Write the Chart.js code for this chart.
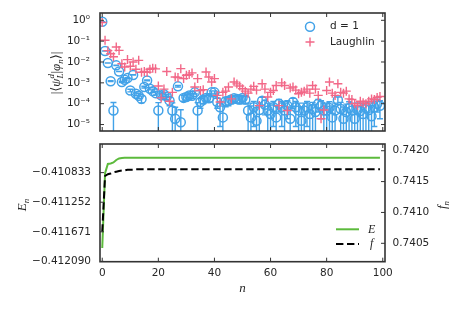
<!DOCTYPE html>
<html>
<head>
<meta charset="utf-8">
<script src="https://cdn.jsdelivr.net/npm/chart.js@4.4.0/dist/chart.umd.min.js"></script>
<style>
  html, body { margin: 0; padding: 0; background: #fff; }
  #wrap { position: relative; width: 463px; height: 309px; }
  canvas { position: absolute; left: 0; }
  #overlapChart { top: 0; }
  #energyChart { top: 137px; }
</style>
</head>
<body>
<div id="wrap">
  <canvas id="overlapChart" width="463" height="137"></canvas>
  <canvas id="energyChart" width="463" height="172"></canvas>
</div>
<script>
// step index n
const steps = [0,1,2,3,4,5,6,7,8,9,10,11,12,13,14,15,16,17,18,19,
  20,21,22,23,24,25,26,27,28,29,30,31,32,33,34,35,36,37,38,39,
  40,41,42,43,44,45,46,47,48,49,50,51,52,53,54,55,56,57,58,59,
  60,61,62,63,64,65,66,67,68,69,70,71,72,73,74,75,76,77,78,79,
  80,81,82,83,84,85,86,87,88,89,90,91,92,93,94,95,96,97,98,99];

// |<psi_L^d|phi_n>| for d = 1 (with error bars)
const overlapD1 = [0.85, 3.4e-2, 8.9e-3, 1.2e-3, 4.7e-5, 6.9e-3, 3.5e-3, 1.1e-3, 1.4e-3, 1.7e-3,
  4.3e-4, 2.4e-3, 3.0e-4, 2.4e-4, 1.7e-4, 6.3e-4, 1.3e-3, 5.2e-4, 4.0e-4, 3.2e-4,
  4.7e-5, 2.5e-4, 2.8e-4, 2.2e-4, 1.4e-4, 4.7e-5, 1.9e-5, 6.8e-4, 1.3e-5, 1.9e-4,
  2.1e-4, 2.5e-4, 2.4e-4, 3.5e-4, 4.7e-5, 1.2e-4, 1.6e-4, 1.9e-4, 1.8e-4, 3.5e-4,
  3.5e-4, 1.2e-4, 6.8e-5, 2.2e-5, 1.3e-4, 1.4e-4, 1.6e-4, 1.8e-4, 1.7e-4, 1.6e-4,
  1.9e-4, 1.6e-4, 4.7e-5, 2.2e-5, 6.8e-5, 1.5e-5, 5.0e-5, 1.4e-4, 8.9e-5, 4.7e-5,
  3.2e-5, 6.8e-5, 2.2e-5, 1.0e-4, 6.8e-5, 4.7e-5, 7.9e-5, 1.9e-5, 1.2e-4, 6.8e-5,
  4.7e-5, 1.5e-5, 4.7e-5, 6.8e-5, 3.2e-5, 5.6e-5, 4.0e-5, 1.0e-4, 7.9e-5, 4.7e-5,
  4.7e-5, 6.3e-5, 2.2e-5, 4.7e-5, 1.5e-4, 5.6e-5, 1.9e-5, 4.0e-5, 6.3e-5, 4.7e-5,
  1.9e-5, 5.0e-5, 4.5e-5, 3.2e-5, 6.3e-5, 5.0e-5, 2.5e-5, 6.8e-5, 1.0e-4, 7.9e-5];

const overlapD1Err = [6e-5, 6e-5, 6e-5, 6e-5, 6.8e-5, 6e-5, 6e-5, 6e-5, 6e-5, 6e-5,
  6e-5, 6e-5, 6e-5, 6e-5, 6e-5, 6e-5, 6e-5, 6e-5, 6e-5, 6e-5,
  6.5e-5, 6e-5, 6e-5, 6e-5, 6e-5, 6.2e-5, 4.9e-5, 6e-5, 3.8e-5, 6e-5,
  6e-5, 6e-5, 6e-5, 6e-5, 6.5e-5, 6e-5, 6e-5, 6e-5, 6e-5, 6e-5,
  6e-5, 6e-5, 6e-5, 5.5e-5, 6e-5, 6e-5, 6e-5, 6e-5, 6e-5, 6e-5,
  6e-5, 6e-5, 6e-5, 5.5e-5, 6e-5, 5e-5, 6e-5, 6e-5, 6e-5, 6e-5,
  5.5e-5, 6e-5, 5.5e-5, 6e-5, 6e-5, 6e-5, 6e-5, 5e-5, 6e-5, 6e-5,
  6e-5, 5e-5, 6e-5, 6e-5, 5.5e-5, 6e-5, 5.5e-5, 6e-5, 6e-5, 6e-5,
  6e-5, 6e-5, 5.5e-5, 6e-5, 6e-5, 6e-5, 5e-5, 5.5e-5, 6e-5, 6e-5,
  5e-5, 6e-5, 6e-5, 5.5e-5, 6e-5, 6e-5, 5.5e-5, 6e-5, 6e-5, 6e-5];

// Laughlin overlap
const overlapLaughlin = [0.79, 0.11, 3.5e-2, 2.5e-2, 1.8e-2, 5.2e-2, 3.6e-2, 8.3e-3, 5.8e-3, 1.3e-2,
  6.3e-3, 1.0e-2, 4.5e-3, 1.2e-2, 3.2e-3, 3.5e-3, 3.2e-3, 4.5e-3, 5.0e-3, 4.7e-3,
  7.1e-4, 1.9e-4, 5.0e-4, 3.5e-3, 1.3e-4, 3.5e-4, 1.9e-3, 1.8e-3, 4.8e-3, 1.6e-3,
  2.3e-3, 2.5e-3, 3.0e-3, 6.3e-4, 1.6e-3, 4.3e-4, 4.7e-4, 3.3e-3, 1.9e-3, 1.1e-3,
  1.6e-3, 2.5e-4, 1.2e-4, 3.5e-4, 4.0e-4, 6.3e-4, 1.7e-4, 1.1e-3, 8.9e-4, 7.1e-4,
  5.2e-4, 4.0e-4, 3.2e-4, 5.0e-4, 6.8e-4, 4.5e-4, 8.1e-5, 9.1e-4, 5.0e-4, 2.1e-4,
  3.5e-4, 4.3e-4, 7.4e-4, 8.1e-5, 1.0e-3, 7.4e-4, 4.7e-5, 5.6e-4, 6.3e-4, 4.5e-4,
  3.0e-4, 3.5e-4, 4.0e-4, 5.0e-4, 3.2e-4, 7.4e-4, 5.0e-4, 2.5e-4, 1.9e-5, 5.0e-5,
  4.3e-4, 1.1e-3, 3.2e-4, 2.5e-4, 9.1e-4, 3.5e-4, 3.2e-4, 4.0e-4, 1.7e-4, 1.6e-4,
  1.0e-4, 8.1e-5, 1.3e-4, 1.1e-4, 1.0e-4, 1.3e-4, 1.7e-4, 1.6e-4, 2.0e-4, 2.2e-4];

// E_n (left axis) and f_n (right axis)
const energy = [-0.411901, -0.410840, -0.410710, -0.410703, -0.410689, -0.410654, -0.410633, -0.410626, -0.410624, -0.410623,
  -0.410623, -0.410622, -0.410622, -0.410622, -0.410622, -0.410621, -0.410621, -0.410621, -0.410621, -0.410621,
  -0.410621, -0.410621, -0.410621, -0.410621, -0.410621, -0.410621, -0.410621, -0.410621, -0.410621, -0.410621,
  -0.410621, -0.410621, -0.410621, -0.410621, -0.410621, -0.410621, -0.410621, -0.410621, -0.410621, -0.410621,
  -0.410621, -0.410621, -0.410621, -0.410621, -0.410621, -0.410621, -0.410621, -0.410621, -0.410621, -0.410621,
  -0.410621, -0.410621, -0.410621, -0.410621, -0.410621, -0.410621, -0.410621, -0.410621, -0.410621, -0.410621,
  -0.410621, -0.410621, -0.410621, -0.410621, -0.410621, -0.410621, -0.410621, -0.410621, -0.410621, -0.410621,
  -0.410621, -0.410621, -0.410621, -0.410621, -0.410621, -0.410621, -0.410621, -0.410621, -0.410621, -0.410621,
  -0.410621, -0.410621, -0.410621, -0.410621, -0.410621, -0.410621, -0.410621, -0.410621, -0.410621, -0.410621,
  -0.410621, -0.410621, -0.410621, -0.410621, -0.410621, -0.410621, -0.410621, -0.410621, -0.410621, -0.410621];

const fidelity = [0.74069, 0.74159, 0.74162, 0.74163, 0.74165, 0.74166, 0.74167, 0.74168, 0.74168, 0.74169,
  0.74169, 0.74169, 0.74170, 0.74170, 0.74170, 0.74170, 0.74170, 0.74170, 0.74170, 0.74170,
  0.74170, 0.74170, 0.74170, 0.74170, 0.74170, 0.74170, 0.74170, 0.74170, 0.74170, 0.74170,
  0.74170, 0.74170, 0.74170, 0.74170, 0.74170, 0.74170, 0.74170, 0.74170, 0.74170, 0.74170,
  0.74170, 0.74170, 0.74170, 0.74170, 0.74170, 0.74170, 0.74170, 0.74170, 0.74170, 0.74170,
  0.74170, 0.74170, 0.74170, 0.74170, 0.74170, 0.74170, 0.74170, 0.74170, 0.74170, 0.74170,
  0.74170, 0.74170, 0.74170, 0.74170, 0.74170, 0.74170, 0.74170, 0.74170, 0.74170, 0.74170,
  0.74170, 0.74170, 0.74170, 0.74170, 0.74170, 0.74170, 0.74170, 0.74170, 0.74170, 0.74170,
  0.74170, 0.74170, 0.74170, 0.74170, 0.74170, 0.74170, 0.74170, 0.74170, 0.74170, 0.74170,
  0.74170, 0.74170, 0.74170, 0.74170, 0.74170, 0.74170, 0.74170, 0.74170, 0.74170, 0.74170];

// tick values
const xTicks = [0, 20, 40, 60, 80, 100];
const overlapTicks = [1e-5, 1e-4, 1e-3, 1e-2, 1e-1, 1];
const energyTicks = [-0.412090, -0.411671, -0.411252, -0.410833];
const fidelityTicks = [0.7405, 0.7410, 0.7415, 0.7420];

const BLUE = 'rgb(66,162,232)';
const PINK = 'rgb(242,104,136)';
const GREEN = 'rgb(92,186,60)';
const FRAME = '#333333';
const TXT = '#262626';
const MATH = '"Liberation Serif", "DejaVu Serif", serif';

Chart.defaults.font.family = '"DejaVu Sans", sans-serif';
Chart.defaults.font.size = 10.5;
Chart.defaults.color = TXT;

const SUP = {'0':'\u2070','1':'\u00b9','2':'\u00b2','3':'\u00b3','4':'\u2074','5':'\u2075','-':'\u207b'};
function powLabel(v) {
  const e = String(Math.round(Math.log10(v)));
  return '10' + e.split('').map(c => SUP[c]).join('');
}

function setTicks(list) {
  return scale => { scale.ticks = list.map(v => ({ value: v })); };
}
// fix the box size and drop the label overhang padding
function fixSize(w, h) {
  return s => {
    if (w !== null) s.width = w;
    if (h !== null) s.height = h;
    s.paddingTop = 0; s.paddingBottom = 0;
    s.paddingLeft = 0; s.paddingRight = 0;
  };
}
const noGrid = { display: false, drawTicks: false };

// draw parts of a math label, optionally rotated, centred on (cx, cy)
function mathText(ctx, parts, cx, cy, angle) {
  ctx.save();
  ctx.translate(cx, cy);
  ctx.rotate(angle);
  ctx.fillStyle = TXT;
  ctx.textBaseline = 'alphabetic';
  let total = 0, held = 0;
  parts.forEach(p => {
    ctx.font = p.font;
    p.w = ctx.measureText(p.t).width;
    if (p.keep) { held = p.w; return; }
    total += Math.max(p.w, held);
    held = 0;
  });
  let x = -total / 2;
  held = 0;
  parts.forEach(p => {
    ctx.font = p.font;
    ctx.fillText(p.t, x, 4 + (p.dy || 0));
    if (p.keep) { held = p.w; return; }
    x += Math.max(p.w, held);
    held = 0;
  });
  ctx.restore();
}

// frame with inward ticks on every side
function framePlugin(leftId, rightId) {
  return {
    id: 'frame',
    afterDraw(chart) {
      const { ctx, chartArea: a } = chart;
      const tl = 4;
      ctx.save();
      ctx.strokeStyle = FRAME;
      ctx.lineWidth = 1;
      ctx.beginPath();
      const xs = chart.scales.x;
      xs.ticks.forEach(t => {
        const px = xs.getPixelForValue(t.value);
        ctx.moveTo(px, a.bottom); ctx.lineTo(px, a.bottom - tl);
        ctx.moveTo(px, a.top); ctx.lineTo(px, a.top + tl);
      });
      const yl = chart.scales[leftId];
      yl.ticks.forEach(t => {
        const py = yl.getPixelForValue(t.value);
        ctx.moveTo(a.left, py); ctx.lineTo(a.left + tl, py);
      });
      const yr = chart.scales[rightId];
      yr.ticks.forEach(t => {
        const py = yr.getPixelForValue(t.value);
        ctx.moveTo(a.right, py); ctx.lineTo(a.right - tl, py);
      });
      ctx.stroke();
      ctx.lineWidth = 1.6;
      ctx.strokeRect(a.left, a.top, a.right - a.left, a.bottom - a.top);
      ctx.restore();
    }
  };
}

const errorBars = {
  id: 'errorBars',
  beforeDatasetsDraw(chart) {
    const { ctx, chartArea: a, scales: { x, y } } = chart;
    ctx.save();
    ctx.beginPath();
    ctx.rect(a.left, a.top, a.right - a.left, a.bottom - a.top);
    ctx.clip();
    ctx.strokeStyle = BLUE;
    ctx.lineWidth = 1.4;
    ctx.beginPath();
    steps.forEach((n, i) => {
      const px = x.getPixelForValue(n);
      const lo = overlapD1[i] - overlapD1Err[i];
      const yHi = y.getPixelForValue(overlapD1[i] + overlapD1Err[i]);
      const yLo = lo > 0 ? y.getPixelForValue(lo) : a.bottom + 4;
      ctx.moveTo(px, yHi); ctx.lineTo(px, yLo);
      ctx.moveTo(px - 3, yHi); ctx.lineTo(px + 3, yHi);
      if (lo > 0) { ctx.moveTo(px - 3, yLo); ctx.lineTo(px + 3, yLo); }
    });
    ctx.stroke();
    ctx.restore();
  }
};

const overlapLabels = {
  id: 'overlapLabels',
  afterDraw(chart) {
    const ctx = chart.ctx;
    const big = 'italic 13px ' + MATH, up = '13px ' + MATH;
    const small = 'italic 9px ' + MATH;
    mathText(ctx, [
      { t: '|\u27e8', font: up },
      { t: '\u03c8', font: big },
      { t: 'd', font: small, dy: -6, keep: true },
      { t: 'L', font: small, dy: 3 },
      { t: '|', font: up },
      { t: '\u03c6', font: big },
      { t: 'n', font: small, dy: 3 },
      { t: '\u27e9|', font: up }
    ], 56, 73, -Math.PI / 2);

    // legend
    ctx.save();
    ctx.lineWidth = 1.5;
    ctx.strokeStyle = BLUE;
    ctx.beginPath(); ctx.arc(310, 26.7, 4.5, 0, Math.PI * 2); ctx.stroke();
    ctx.strokeStyle = PINK;
    ctx.lineWidth = 1.4;
    ctx.beginPath();
    ctx.moveTo(305.5, 42); ctx.lineTo(314.5, 42);
    ctx.moveTo(310, 37.5); ctx.lineTo(310, 46.5);
    ctx.stroke();
    ctx.fillStyle = TXT;
    ctx.font = '10.5px "DejaVu Sans"';
    ctx.textBaseline = 'middle';
    ctx.fillText('d = 1', 330, 26.7);
    ctx.fillText('Laughlin', 330, 42);
    ctx.restore();
  }
};

const energyLabels = {
  id: 'energyLabels',
  afterDraw(chart) {
    const ctx = chart.ctx;
    const big = 'italic 13px ' + MATH, small = 'italic 9px ' + MATH;
    mathText(ctx, [{ t: 'E', font: big }, { t: 'n', font: small, dy: 3 }], 21.5, 68, -Math.PI / 2);
    mathText(ctx, [{ t: 'f', font: big }, { t: 'n', font: small, dy: 3 }], 442, 68, -Math.PI / 2);
    mathText(ctx, [{ t: 'n', font: big }], 242.5, 151, 0);

    // legend
    ctx.save();
    ctx.lineWidth = 2;
    ctx.strokeStyle = GREEN;
    ctx.beginPath(); ctx.moveTo(336, 92.3); ctx.lineTo(359, 92.3); ctx.stroke();
    ctx.strokeStyle = '#000';
    ctx.setLineDash([7.4, 3.6]);
    ctx.beginPath(); ctx.moveTo(336, 107); ctx.lineTo(359, 107); ctx.stroke();
    ctx.restore();
    ctx.save();
    ctx.fillStyle = TXT;
    ctx.font = 'italic 12px ' + MATH;
    ctx.textBaseline = 'middle';
    ctx.fillText('E', 368, 92.5);
    ctx.fillText('f', 370, 107);
    ctx.restore();
  }
};

new Chart(document.getElementById('overlapChart'), {
  type: 'scatter',
  data: {
    datasets: [{
      label: 'Laughlin',
      data: steps.map((n, i) => ({ x: n, y: overlapLaughlin[i] })),
      pointStyle: 'cross',
      pointRadius: 4.5,
      borderColor: PINK,
      backgroundColor: PINK,
      pointBorderWidth: 1.4,
      order: 0,
      clip: 0
    }, {
      label: 'd = 1',
      data: steps.map((n, i) => ({ x: n, y: overlapD1[i] })),
      pointStyle: 'circle',
      pointRadius: 4.5,
      borderColor: BLUE,
      backgroundColor: 'rgba(0,0,0,0)',
      pointBorderWidth: 1.5,
      order: 1,
      clip: 0
    }]
  },
  options: {
    responsive: false,
    animation: false,
    layout: { padding: { top: 13, right: 78, left: 0, bottom: 0 } },
    plugins: { legend: { display: false }, tooltip: { enabled: false } },
    scales: {
      x: {
        type: 'linear', min: -0.8, max: 100.8,
        ticks: { display: false },
        grid: noGrid, border: { display: false },
        afterBuildTicks: setTicks(xTicks),
        afterFit: fixSize(null, 6)
      },
      y: {
        type: 'logarithmic', min: 4.9e-6, max: 2.24,
        ticks: { padding: 10, callback: v => powLabel(v) },
        grid: noGrid, border: { display: false },
        afterBuildTicks: setTicks(overlapTicks),
        afterFit: fixSize(100, null)
      }
    }
  },
  plugins: [errorBars, framePlugin('y', 'y'), overlapLabels]
});

new Chart(document.getElementById('energyChart'), {
  type: 'line',
  data: {
    datasets: [{
      label: 'f',
      data: steps.map((n, i) => ({ x: n, y: fidelity[i] })),
      yAxisID: 'yF',
      borderColor: '#000',
      borderWidth: 2,
      borderDash: [7.4, 3.6],
      pointRadius: 0,
      tension: 0,
      order: 0
    }, {
      label: 'E',
      data: steps.map((n, i) => ({ x: n, y: energy[i] })),
      yAxisID: 'yE',
      borderColor: GREEN,
      borderWidth: 2,
      pointRadius: 0,
      tension: 0,
      order: 1
    }]
  },
  options: {
    responsive: false,
    animation: false,
    layout: { padding: { top: 7, right: 0, left: 0, bottom: 0 } },
    plugins: { legend: { display: false }, tooltip: { enabled: false } },
    scales: {
      x: {
        type: 'linear', min: -0.8, max: 100.8,
        ticks: { padding: 5, maxRotation: 0, autoSkip: false },
        grid: noGrid, border: { display: false },
        afterBuildTicks: setTicks(xTicks),
        afterFit: fixSize(null, 47.3)
      },
      yE: {
        position: 'left', min: -0.412094, max: -0.410428,
        ticks: { padding: 9, callback: v => v.toFixed(6).replace('-', '\u2212') },
        grid: noGrid, border: { display: false },
        afterBuildTicks: setTicks(energyTicks),
        afterFit: fixSize(100, null)
      },
      yF: {
        position: 'right', min: 0.740202, max: 0.742109,
        ticks: { padding: 7.5, callback: v => v.toFixed(4) },
        grid: noGrid, border: { display: false },
        afterBuildTicks: setTicks(fidelityTicks),
        afterFit: fixSize(78, null)
      }
    }
  },
  plugins: [framePlugin('yE', 'yF'), energyLabels]
});
</script>
</body>
</html>
